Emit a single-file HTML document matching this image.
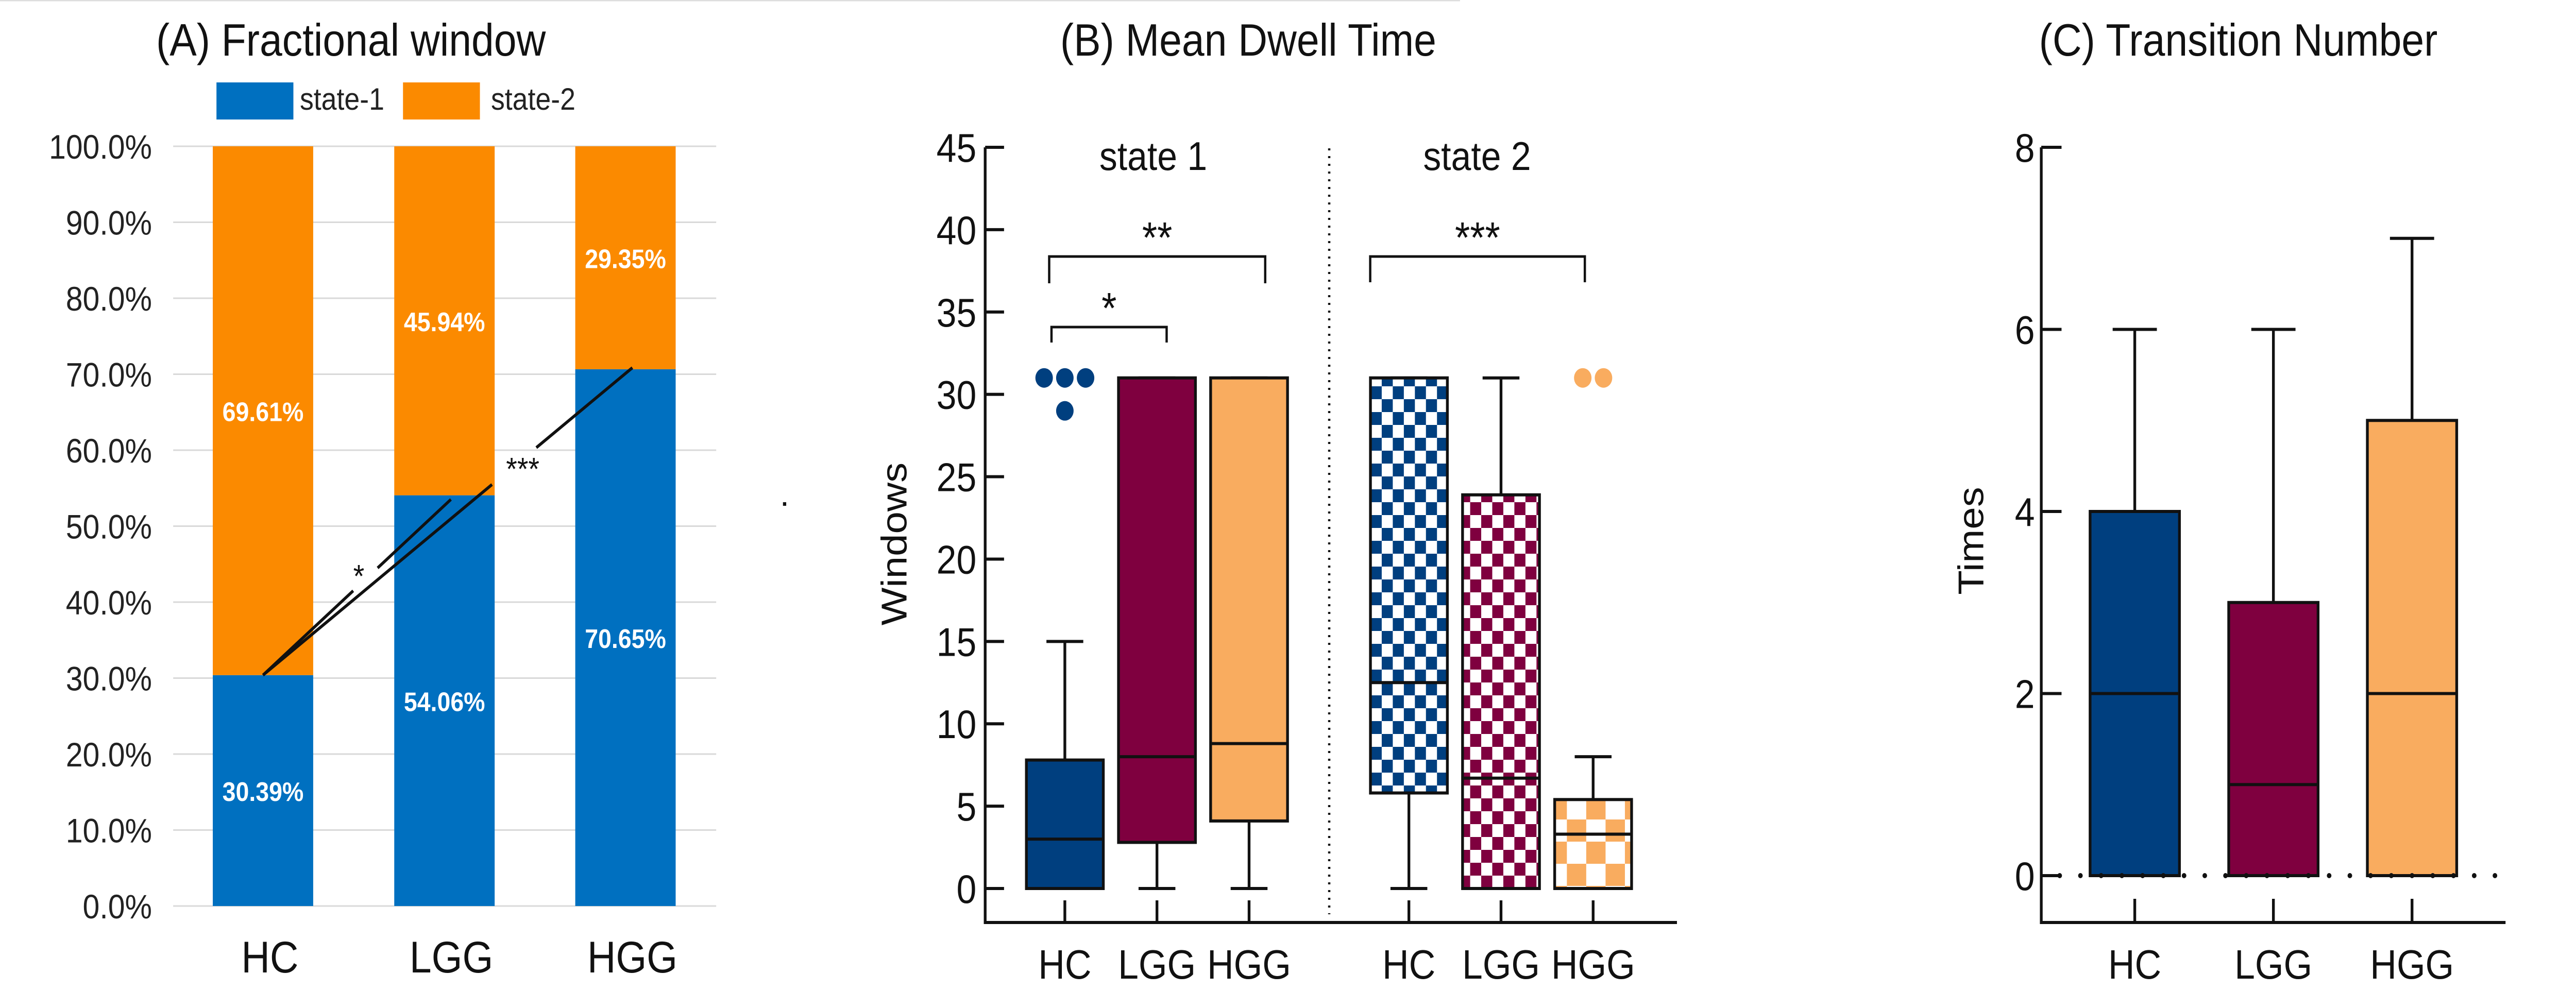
<!DOCTYPE html>
<html><head><meta charset="utf-8"><style>
html,body{margin:0;padding:0;background:#fff;width:100%;height:100%;overflow:hidden;}
svg{display:block;width:100vw;height:100vh;font-family:"Liberation Sans",sans-serif;}
</style></head><body>
<svg id="fig" viewBox="0 0 5593 1957" preserveAspectRatio="none" xmlns="http://www.w3.org/2000/svg">
<defs>
<pattern id="chkNavy" width="48" height="50" patternUnits="userSpaceOnUse"><rect width="48" height="50" fill="#fff"/><rect width="24" height="25" fill="#003f7f"/><rect x="24" y="25" width="24" height="25" fill="#003f7f"/></pattern>
<pattern id="chkMaroon" width="48" height="50" patternUnits="userSpaceOnUse"><rect width="48" height="50" fill="#fff"/><rect width="24" height="25" fill="#7f003f"/><rect x="24" y="25" width="24" height="25" fill="#7f003f"/></pattern>
<pattern id="chkOrange" width="84" height="86" patternUnits="userSpaceOnUse"><rect width="84" height="86" fill="#fff"/><rect width="42" height="43" fill="#f9ac5f"/><rect x="42" y="43" width="42" height="43" fill="#f9ac5f"/></pattern>
</defs>
<line x1="0" y1="1" x2="3170" y2="1" stroke="#dddddd" stroke-width="3"/>
<g id="pa"></g>
<g id="pb"></g>
<g id="pc"></g>
</svg>
<script>
// ---------- Panel A data ----------
const aCategories = ["HC","LGG","HGG"];
const aState1 = [30.39, 54.06, 70.65];
const aState2 = [69.61, 45.94, 29.35];
const aTicks = [0,10,20,30,40,50,60,70,80,90,100];
// ---------- Panel B data ----------
const bCategories = ["HC","LGG","HGG","HC","LGG","HGG"];
const bMin = [0,0,0,0,0,0];
const bQ1 = [0,2.8,4.1,5.8,0,0];
const bMed = [3,8,8.8,12.5,6.7,3.3];
const bQ3 = [7.8,31,31,31,23.9,5.4];
const bMax = [15,31,31,31,31,8];
const bOutliers = [[31,31,31,29],[],[],[],[],[31,31]];
const bTicks = [0,5,10,15,20,25,30,35,40,45];
// ---------- Panel C data ----------
const cCategories = ["HC","LGG","HGG"];
const cMin = [0,0,0];
const cQ1 = [0,0,0];
const cMed = [2,1,2];
const cQ3 = [4,3,5];
const cMax = [6,6,7];
const cTicks = [0,2,4,6,8];

const NS="http://www.w3.org/2000/svg";
function mk(parent,tag,attrs,text){const e=document.createElementNS(NS,tag);for(const k in attrs)e.setAttribute(k,attrs[k]);if(text!==undefined)e.textContent=text;parent.appendChild(e);return e;}

// ---------- Panel A ----------
(function(){
const g=document.getElementById('pa');
const yA=v=>1759-(v/100)*(1759-284);
const xC=[571,965,1358], bw=218;
let t=mk(g,'text',{x:339,y:108,'font-size':88,fill:'#111'},'(A) Fractional window');


let r=mk(g,'rect',{x:470,y:160,width:167,height:72,fill:'#0070c0'});


t=mk(g,'text',{x:651,y:213,'font-size':60,fill:'#222'},'state-1');


r=mk(g,'rect',{x:875,y:160,width:167,height:72,fill:'#fb8a00'});


t=mk(g,'text',{x:1066,y:213,'font-size':60,fill:'#222'},'state-2');


aTicks.forEach(v=>{
 const l=mk(g,'line',{x1:376,x2:1555,y1:yA(v),y2:yA(v),stroke:'#d9d9d9','stroke-width':3});
 
 
 const tt=mk(g,'text',{x:330,y:yA(v)+24,'font-size':66,'text-anchor':'end',fill:'#222'},v.toFixed(1)+'%');
 
 
});
aCategories.forEach((c,i)=>{
 const b1=mk(g,'rect',{x:xC[i]-bw/2,y:yA(aState1[i]),width:bw,height:yA(0)-yA(aState1[i]),fill:'#0070c0'});
 
 
 const b2=mk(g,'rect',{x:xC[i]-bw/2,y:yA(aState1[i]+aState2[i]),width:bw,height:yA(aState1[i])-yA(aState1[i]+aState2[i]),fill:'#fb8a00'});
 
 
 const l1=mk(g,'text',{x:xC[i],y:(yA(0)+yA(aState1[i]))/2+20,'font-size':52,'font-weight':'bold','text-anchor':'middle',fill:'#fff'},aState1[i].toFixed(2)+'%');
 
 
 const l2=mk(g,'text',{x:xC[i],y:(yA(aState1[i])+yA(100))/2+20,'font-size':52,'font-weight':'bold','text-anchor':'middle',fill:'#fff'},aState2[i].toFixed(2)+'%');
 
 
 const cl=mk(g,'text',{x:xC[i]+15,y:1888,'font-size':86,'text-anchor':'middle',fill:'#111'},c);
 
 
});
const p0=[xC[0],yA(aState1[0])];
const p1=[xC[1]+14,yA(aState1[1])+8];
const p2=[xC[2]+15,yA(aState1[2])-3];
function seg(a,b,f0,f1,name){
 const l=mk(g,'line',{x1:a[0]+(b[0]-a[0])*f0,y1:a[1]+(b[1]-a[1])*f0,x2:a[0]+(b[0]-a[0])*f1,y2:a[1]+(b[1]-a[1])*f1,stroke:'#111','stroke-width':6});
 
 
}
seg(p0,p1,0,0.48,'sig-line-hc-lgg');seg(p0,p1,0.61,1,'sig-line-hc-lgg');
seg(p0,p2,0,0.62,'sig-line-hc-hgg');seg(p0,p2,0.74,1,'sig-line-hc-hgg');
t=mk(g,'text',{x:779,y:1140,'font-size':62,'text-anchor':'middle',fill:'#111'},'*');


t=mk(g,'text',{x:1135,y:932,'font-size':62,'text-anchor':'middle',fill:'#111'},'***');


r=mk(g,'rect',{x:1700,y:975,width:7,height:7,fill:'#111'});


})();

function boxPanel(g,yF,xs,w,cap,mins,q1,med,q3,max,fills,prefix,cats){
 xs.forEach((x,i)=>{
  const wl=mk(g,'line',{x1:x,x2:x,y1:yF(max[i]),y2:yF(mins[i]),stroke:'#111','stroke-width':6});
  
  
  [max[i],mins[i]].forEach(v=>{const c=mk(g,'line',{x1:x-cap/2,x2:x+cap/2,y1:yF(v),y2:yF(v),stroke:'#111','stroke-width':6});
   
   });
  const b=mk(g,'rect',{x:x-w/2,y:yF(q3[i]),width:w,height:yF(q1[i])-yF(q3[i]),fill:fills[i],stroke:'#111','stroke-width':6});
  
  
  const m=mk(g,'line',{x1:x-w/2,x2:x+w/2,y1:yF(med[i]),y2:yF(med[i]),stroke:'#111','stroke-width':6});
  
  
 });
}

// ---------- Panel B ----------
(function(){
const g=document.getElementById('pb');
const yB=v=>1725-(v/45)*(1725-286);
const xs=[2312,2512,2712,3059,3259,3459];
let t=mk(g,'text',{x:2302,y:108,'font-size':88,fill:'#111'},'(B) Mean Dwell Time');


let l=mk(g,'polyline',{points:'2139,286 2139,1791 3641,1791',fill:'none',stroke:'#111','stroke-width':6});


bTicks.forEach(v=>{
 const k=mk(g,'line',{x1:2139,x2:2180,y1:yB(v),y2:yB(v),stroke:'#111','stroke-width':6});
 
 
 const tt=mk(g,'text',{x:2120,y:yB(v)+28,'font-size':78,'text-anchor':'end',fill:'#111'},v);
 
 
});
t=mk(g,'text',{x:1968,y:1056,'font-size':78,'text-anchor':'middle',fill:'#111',transform:'rotate(-90 1968 1056)'},'Windows');


l=mk(g,'line',{x1:2886,x2:2886,y1:288,y2:1775,stroke:'#111','stroke-width':5,'stroke-dasharray':'4 11'});


t=mk(g,'text',{x:2504,y:330,'font-size':78,'text-anchor':'middle',fill:'#111'},'state 1');


t=mk(g,'text',{x:3207,y:330,'font-size':78,'text-anchor':'middle',fill:'#111'},'state 2');


const fills=['#003f7f','#7f003f','#f9ac5f','url(#chkNavy)','url(#chkMaroon)','url(#chkOrange)'];
boxPanel(g,yB,xs,167,80,bMin,bQ1,bMed,bQ3,bMax,fills,'dwell',bCategories);
const ocol=['#003f7f','#7f003f','#f9ac5f','#003f7f','#7f003f','#f9ac5f'];
bOutliers.forEach((arr,i)=>{
 const counts={};
 arr.forEach(v=>{counts[v]=(counts[v]||0)+1;});
 Object.keys(counts).forEach(v=>{
  const n=counts[v];
  for(let j=0;j<n;j++){
   const dx=(j-(n-1)/2)*45;
   const c=mk(g,'circle',{cx:xs[i]+dx,cy:yB(+v),r:19,fill:ocol[i]});
   
   
  }
 });
});
xs.forEach((x,i)=>{
 const k=mk(g,'line',{x1:x,x2:x,y1:1748,y2:1791,stroke:'#111','stroke-width':6});
 
 
 const tt=mk(g,'text',{x:x,y:1900,'font-size':80,'text-anchor':'middle',fill:'#111'},bCategories[i]);
 
 
});
function bracket(x1,x2,y,leg,txt,name){
 const p=mk(g,'polyline',{points:`${x1},${y+leg} ${x1},${y} ${x2},${y} ${x2},${y+leg}`,fill:'none',stroke:'#111','stroke-width':5});
 
 
 const s=mk(g,'text',{x:(x1+x2)/2,y:y-8,'font-size':84,'text-anchor':'middle',fill:'#111'},txt);
 
 
}
bracket(2278,2747,498,52,'**','bracket-s1-hc-hgg');
bracket(2283,2533,635,30,'*','bracket-s1-hc-lgg');
bracket(2975,3441,498,50,'***','bracket-s2-hc-hgg');
})();

// ---------- Panel C ----------
(function(){
const g=document.getElementById('pc');
const yC=v=>1700-(v/8)*(1700-286);
const xs=[4635,4936,5237];
let t=mk(g,'text',{x:4427,y:108,'font-size':88,fill:'#111'},'(C) Transition Number');


let l=mk(g,'polyline',{points:'4432,286 4432,1791 5440,1791',fill:'none',stroke:'#111','stroke-width':6});


cTicks.forEach(v=>{
 const k=mk(g,'line',{x1:4432,x2:4476,y1:yC(v),y2:yC(v),stroke:'#111','stroke-width':6});
 
 
 const tt=mk(g,'text',{x:4418,y:yC(v)+28,'font-size':78,'text-anchor':'end',fill:'#111'},v);
 
 
});
t=mk(g,'text',{x:4306,y:1050,'font-size':78,'text-anchor':'middle',fill:'#111',transform:'rotate(-90 4306 1050)'},'Times');


boxPanel(g,yC,xs,194,96,cMin,cQ1,cMed,cQ3,cMax,['#003f7f','#7f003f','#f9ac5f'],'transition',cCategories);
l=mk(g,'line',{x1:4472,x2:5440,y1:yC(0),y2:yC(0),stroke:'#111','stroke-width':10,'stroke-dasharray':'0 45','stroke-linecap':'round'});


xs.forEach((x,i)=>{
 const k=mk(g,'line',{x1:x,x2:x,y1:1745,y2:1791,stroke:'#111','stroke-width':6});
 
 
 const tt=mk(g,'text',{x:x,y:1900,'font-size':80,'text-anchor':'middle',fill:'#111'},cCategories[i]);
 
 
});
})();
</script>
</body></html>
